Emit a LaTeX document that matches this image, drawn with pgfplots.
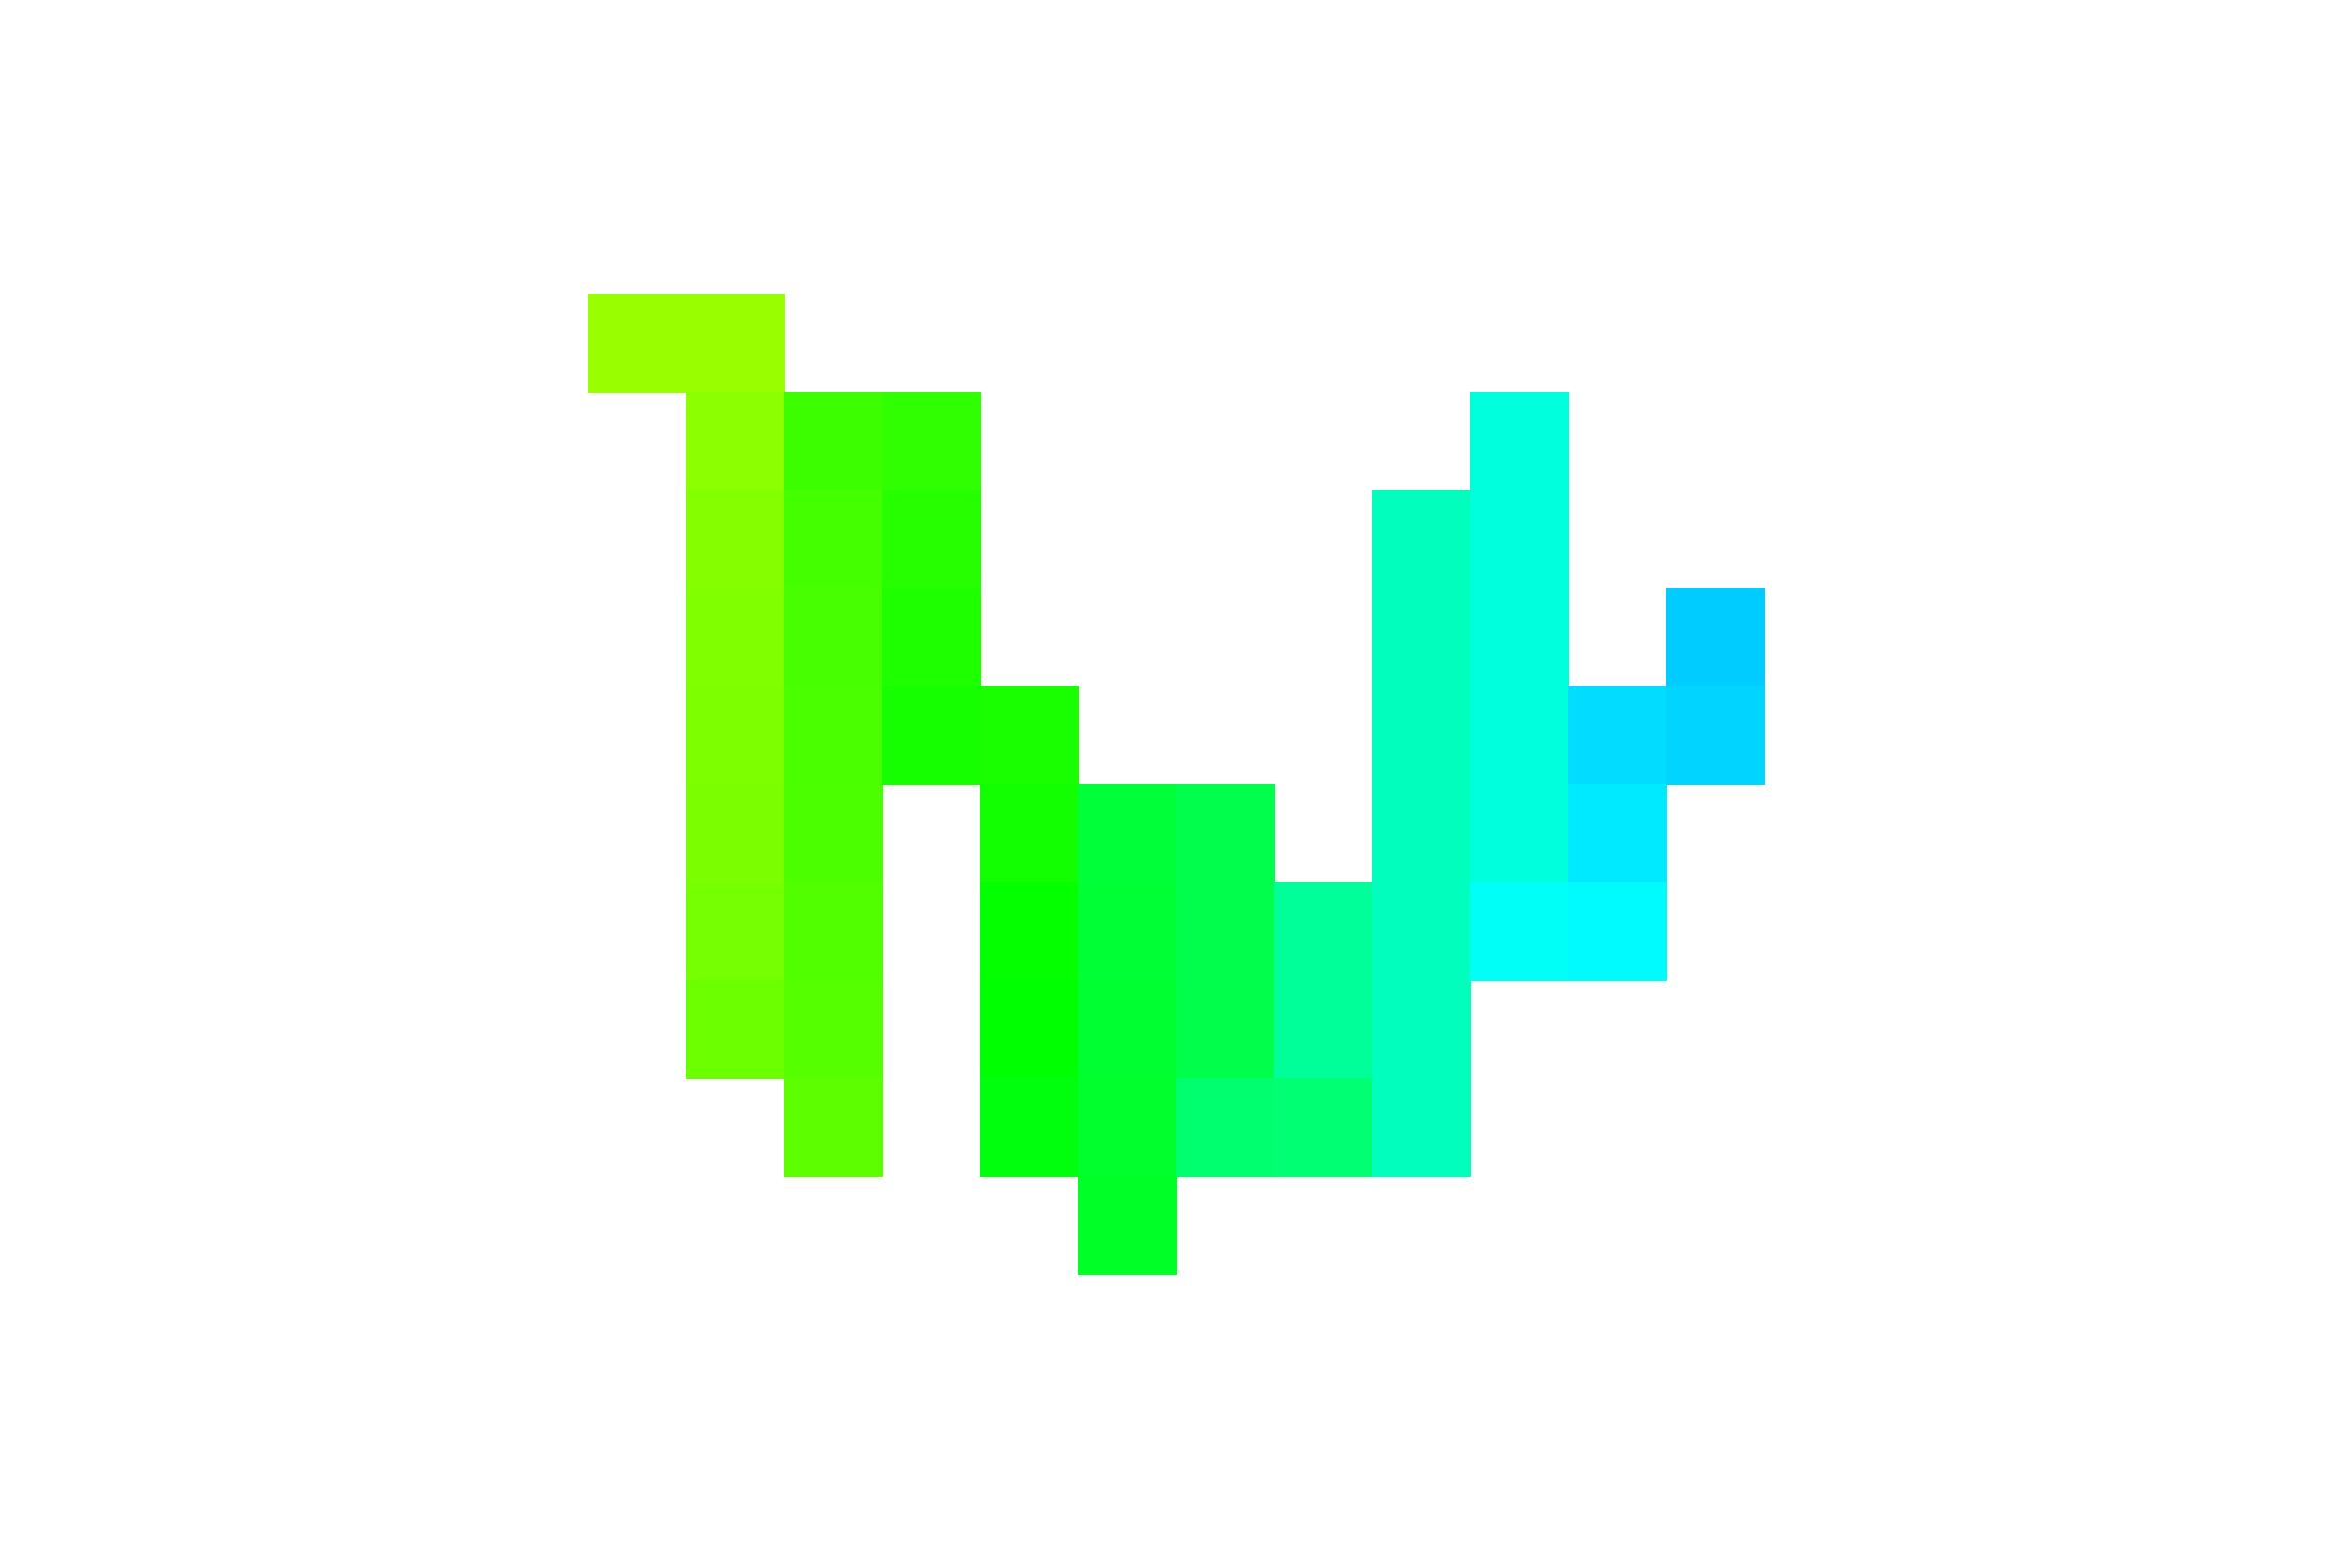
\documentclass[border=0pt]{standalone}
\usepackage{pgfplots}
\usepackage{pgfplotstable}
\pgfplotsset{compat=1.18}

% cell centres: x = column, y = row from the bottom, h = hue in degrees
\pgfplotstableread{
x y h
0 9 84
1 9 84
1 8 87
1 7 89
1 6 90
1 5 90.5
1 4 91
1 3 92.5
1 2 94.5
2 8 106
2 7 104
2 6 103
2 5 102.5
2 4 102
2 3 101
2 2 100
2 1 98
3 8 109
3 7 111
3 6 113
3 5 115
4 5 114
4 4 116
4 3 119
4 2 120
4 1 123
5 4 133.5
5 3 132.5
5 2 131.5
5 1 130.5
5 0 129
6 4 138
6 3 138
6 2 137.5
6 1 146
7 3 156
7 2 156
7 1 147
8 7 164.5
8 6 164.5
8 5 164.5
8 4 164.5
8 3 164.5
8 2 164.5
8 1 164.5
9 8 172
9 7 172
9 6 172
9 5 172
9 4 172
9 3 178
10 5 188
10 4 185
10 3 181
11 6 192
11 5 190
}\cells

\begin{document}
\begin{tikzpicture}
\begin{axis}[
  scale only axis,
  width=12cm, height=8cm,
  xmin=-6.5, xmax=17.5,
  ymin=-3.5, ymax=12.5,
  hide axis,
  colormap={huemap}{rgb255(84)=(153,255,0) rgb255(120)=(0,255,0)
    rgb255(180)=(0,255,255) rgb255(192)=(0,204,255)},
  point meta min=84, point meta max=192,
]
\addplot[draw=none, mark=none] coordinates {(-6.5,-3.5) (17.5,12.5)};
\addplot[scatter, only marks, mark=square*, mark size=7.1pt,
  mark options={line width=0.1pt},
  scatter/use mapped color={draw=mapped color, fill=mapped color},
  point meta=explicit]
  table[x=x, y=y, meta=h] {\cells};
\end{axis}
\end{tikzpicture}
\end{document}
